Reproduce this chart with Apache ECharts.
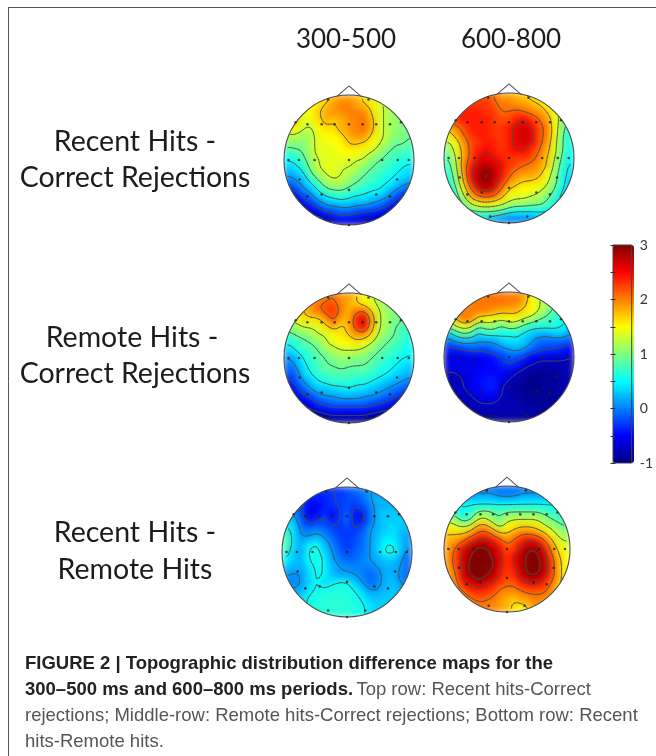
<!DOCTYPE html>
<html><head><meta charset="utf-8">
<style>
html,body{margin:0;padding:0;background:#fff}
#c{width:656px;height:756px}
canvas[data-zr-dom-id="zr_0"]{filter:blur(3.2px)}
canvas[data-zr-dom-id="zr_1"]{filter:blur(0.35px)}
</style>
<script src="https://cdn.jsdelivr.net/npm/echarts@6/dist/echarts.min.js"></script>
</head><body><div id="c"></div>
<script>
const colTitles=['300-500','600-800'];
const rowTitles=[['Recent Hits -','Correct Rejections'],['Remote Hits -','Correct Rejections'],['Recent Hits -','Remote Hits']];
const colorTicks=[3,2,1,0,-1];
const levels=[-0.7,-0.3,0.1,0.5,0.9,1.3,1.7,2.1,2.5,2.9];
const jet=['#00007f','#0000ff','#007fff','#00ffff','#7fff7f','#ffff00','#ff7f00','#ff0000','#7f0000'];
const electrodes=[[-.64,-.55],[-.42,-.55],[-.22,-.55],[0,-.55],[.21,-.55],[.42,-.55],[.63,-.55],
[-.93,0],[-.77,0],[-.53,0],[0,0],[.51,0],[.75,0],[.92,0],[-.76,.3],[.74,.3],[-.42,.53],[0,.46],[.42,.53],
[-.64,.56],[.63,.56],[-.32,-.93],[.3,-.93],[-.82,-.58],[.8,-.58],[-.29,.9],[.28,.9],[0,1]];

const recentCr300=[
[1.2,1.2,1.2,1.3,1.4,1.6,1.8,1.9,1.9,1.8,1.6,1.4,1.3,1.2,1.1,1.1,1.1],
[1.2,1.2,1.3,1.5,1.6,1.8,1.9,2.0,2.0,1.9,1.8,1.6,1.4,1.2,1.1,1.1,1.1],
[1.3,1.3,1.4,1.5,1.7,1.8,1.9,1.9,2.0,2.0,2.0,1.7,1.4,1.2,1.1,1.0,1.0],
[1.7,1.7,1.4,1.4,1.6,1.8,1.7,1.8,1.9,2.0,2.05,1.8,1.4,1.2,1.1,1.0,1.0],
[1.5,1.5,1.3,1.2,1.5,1.6,1.6,1.8,1.9,2.0,2.05,1.8,1.4,1.2,1.1,1.0,.9],
[1.2,1.2,1.1,1.2,1.4,1.5,1.5,1.6,1.8,1.9,1.9,1.6,1.4,1.2,1.0,1.0,.9],
[1.0,1.0,1.0,1.2,1.4,1.4,1.5,1.5,1.7,1.7,1.6,1.5,1.3,1.1,.9,.9,.8],
[.7,.8,.9,1.2,1.4,1.4,1.4,1.5,1.5,1.5,1.4,1.3,1.1,.9,.8,.8,.7],
[.5,.6,.8,1.1,1.3,1.4,1.4,1.4,1.4,1.3,1.3,1.0,.9,.8,.7,.6,.6],
[.3,.4,.6,1.0,1.3,1.4,1.4,1.3,1.3,1.2,1.0,.9,.8,.7,.6,.5,.4],
[.1,.2,.4,.8,1.1,1.3,1.4,1.3,1.2,1.0,.9,.8,.7,.6,.5,.4,.3],
[-.1,0,.2,.5,.8,1.1,1.2,1.2,1.0,.9,.8,.7,.6,.5,.4,.2,.1],
[-.4,-.3,0,.2,.5,.8,.9,.9,.8,.7,.6,.5,.5,.3,.1,-.1,-.2],
[-.7,-.6,-.3,-.1,.2,.4,.5,.6,.5,.4,.4,.3,.2,.1,-.2,-.4,-.5],
[-.9,-.8,-.6,-.4,-.2,.1,.1,.2,.2,.1,.1,0,-.1,-.3,-.5,-.7,-.8],
[-1,-1,-.8,-.7,-.6,-.4,-.3,-.2,-.2,-.3,-.4,-.4,-.5,-.7,-.8,-.9,-1],
[-1,-1,-1,-1,-.9,-.8,-.7,-.6,-.6,-.7,-.7,-.8,-.9,-1,-1,-1,-1]];

const recentCr600=[
[2.1,2.1,2.1,2.1,2.2,2.2,2.1,1.9,1.9,1.8,1.7,1.6,1.5,1.4,1.3,1.2,1.1],
[2.2,2.2,2.2,2.3,2.3,2.3,2.2,2.0,2.0,1.9,1.9,1.8,1.7,1.5,1.3,1.1,1.0],
[2.3,2.3,2.4,2.4,2.4,2.3,2.3,2.1,2.1,2.2,2.1,2.0,1.9,1.7,1.4,1.1,.9],
[2.2,2.3,2.4,2.4,2.4,2.4,2.3,2.2,2.2,2.4,2.5,2.3,2.1,1.9,1.5,1.1,.8],
[1.8,2.0,2.2,2.4,2.4,2.4,2.3,2.3,2.4,2.6,2.7,2.5,2.2,2.0,1.5,1.0,.7],
[1.5,1.8,2.1,2.3,2.4,2.4,2.3,2.3,2.4,2.6,2.7,2.6,2.2,2.0,1.5,.9,.6],
[1.2,1.5,1.9,2.2,2.3,2.4,2.4,2.3,2.4,2.6,2.7,2.5,2.2,1.9,1.4,.9,.6],
[1.0,1.4,1.8,2.2,2.4,2.5,2.4,2.3,2.4,2.5,2.5,2.3,2.1,1.8,1.4,.9,.5],
[.8,1.3,1.8,2.2,2.5,2.6,2.5,2.4,2.3,2.3,2.3,2.2,2.0,1.7,1.3,.8,.5],
[.7,1.2,1.9,2.4,2.7,2.8,2.7,2.5,2.3,2.2,2.1,2.0,1.9,1.7,1.2,.7,.4],
[.6,1.1,1.8,2.5,2.8,2.95,2.8,2.5,2.2,2.0,1.9,1.9,1.8,1.5,1.1,.6,.4],
[.5,1.0,1.7,2.4,2.8,2.95,2.8,2.4,2.0,1.8,1.7,1.7,1.6,1.4,1.0,.6,.3],
[.4,.8,1.5,2.1,2.6,2.8,2.6,2.1,1.7,1.6,1.5,1.5,1.4,1.2,.9,.5,.3],
[.3,.7,1.2,1.8,2.1,2.2,2.1,1.8,1.5,1.4,1.4,1.3,1.2,1.0,.7,.4,.2],
[.2,.5,.9,1.3,1.5,1.6,1.5,1.4,1.2,1.1,1.1,1.0,1.0,.8,.6,.3,.2],
[.1,.3,.6,.8,.9,.9,.9,.8,.6,.5,.5,.5,.5,.5,.4,.2,.1],
[0,.1,.3,.4,.4,.4,.2,.1,0,0,0,.1,.2,.2,.2,.1,0]];

const remoteCr300=[
[1.5,1.5,1.5,1.6,1.8,2.0,2.1,1.9,1.9,1.7,1.5,1.3,1.2,1.1,1.0,1.0,1.0],
[1.5,1.5,1.6,1.9,2.1,2.2,2.2,2.0,1.8,1.7,1.6,1.4,1.2,1.1,1.0,.9,.9],
[1.5,1.5,1.7,1.9,2.0,2.2,2.3,2.0,1.8,2.1,2.2,1.7,1.3,1.1,1.0,.9,.8],
[1.4,1.4,1.6,1.6,1.6,1.9,2.2,1.8,1.8,2.4,2.7,1.9,1.3,1.1,1.0,.9,.8],
[1.0,1.1,1.3,1.3,1.4,1.6,1.8,1.6,1.8,2.3,2.5,1.8,1.3,1.1,.9,.8,.7],
[.8,.9,1.0,1.1,1.3,1.3,1.5,1.6,1.7,1.9,1.9,1.6,1.2,1.0,.9,.7,.7],
[.5,.7,.8,.9,1.0,1.3,1.4,1.5,1.5,1.6,1.5,1.3,1.0,.9,.8,.7,.6],
[.3,.5,.7,.8,.9,1.1,1.2,1.3,1.3,1.3,1.2,1.0,.9,.8,.7,.6,.5],
[.1,.2,.5,.7,.8,.9,1.0,1.1,1.1,1.0,1.0,.9,.8,.7,.6,.5,.5],
[-.1,.1,.4,.6,.8,.9,.9,1.0,.9,.9,.9,.8,.7,.6,.5,.4,.3],
[-.2,-.1,.3,.5,.7,.8,.8,.8,.8,.8,.8,.7,.6,.5,.4,.3,.2],
[-.4,-.2,.1,.3,.5,.6,.7,.7,.7,.6,.6,.5,.4,.3,.2,.1,0],
[-.6,-.4,-.1,.1,.3,.3,.4,.4,.5,.4,.4,.3,.2,.1,0,-.1,-.2],
[-.8,-.6,-.4,-.2,0,.1,.1,.2,.2,.2,.1,.1,0,-.1,-.2,-.4,-.5],
[-1,-.9,-.7,-.5,-.3,-.2,-.1,-.1,-.1,-.1,-.1,-.2,-.3,-.4,-.6,-.7,-.8],
[-1,-1,-.9,-.8,-.7,-.6,-.5,-.5,-.5,-.5,-.5,-.6,-.7,-.8,-.9,-1,-1],
[-1,-1,-1,-1,-1,-.9,-.9,-.9,-.9,-.9,-.9,-1,-1,-1,-1,-1,-1]];

const remoteCr600=[
[1.8,1.8,1.8,1.9,2.0,2.05,2.05,2.05,2.0,2.0,1.9,1.5,1.3,1.1,1.0,.9,.8],
[1.8,1.8,1.9,2.0,2.05,2.05,2.05,2.05,2.0,2.0,1.8,1.5,1.3,1.2,.9,.8,.7],
[1.9,1.9,2.0,2.0,2.0,2.0,1.9,1.8,1.8,1.8,1.6,1.5,1.3,1.0,.8,.6,.5],
[1.3,1.7,2.05,2.0,1.6,1.5,1.5,1.4,1.5,1.5,1.3,1.2,.9,.8,.7,.6,.5],
[1.0,1.3,1.5,1.4,.9,1.1,1.1,.8,1.1,1.0,.8,.6,.6,.6,.6,.5,.3],
[.3,.6,.9,.8,.4,.6,.6,.6,.5,.6,.4,.3,.2,.2,.3,.3,.1],
[-.1,.1,.2,.2,.1,.1,.1,.3,.4,.4,.3,.1,-.1,-.1,-.1,-.1,-.2],
[-.4,-.4,-.3,-.2,-.2,-.2,-.1,0,.1,.2,.1,-.1,-.2,-.3,-.3,-.4,-.5],
[-.6,-.6,-.6,-.6,-.6,-.5,-.4,-.3,-.1,-.2,-.3,-.5,-.6,-.6,-.6,-.6,-.7],
[-.6,-.6,-.6,-.6,-.6,-.5,-.5,-.4,-.3,-.4,-.6,-.7,-.8,-.8,-.8,-.8,-.8],
[-.7,-.7,-.6,-.6,-.5,-.5,-.5,-.5,-.6,-.7,-.8,-.9,-.9,-.9,-.9,-.8,-.8],
[-.8,-.8,-.7,-.6,-.5,-.4,-.4,-.6,-.7,-.8,-.9,-.95,-.95,-.9,-.9,-.8,-.8],
[-.8,-.8,-.7,-.6,-.5,-.4,-.4,-.7,-.8,-.9,-.95,-.95,-.95,-.9,-.9,-.8,-.8],
[-.8,-.8,-.8,-.7,-.6,-.5,-.5,-.7,-.8,-.9,-.9,-.95,-.95,-.9,-.9,-.8,-.8],
[-.9,-.9,-.8,-.8,-.7,-.7,-.7,-.8,-.8,-.8,-.9,-.9,-.9,-.9,-.9,-.9,-.9],
[-.9,-.9,-.9,-.9,-.8,-.8,-.8,-.8,-.8,-.8,-.8,-.8,-.9,-.9,-.9,-.9,-.9],
[-1,-1,-1,-.9,-.9,-.9,-.9,-.9,-.9,-.9,-.9,-.9,-.9,-.9,-1,-1,-1]];

const recentRemote300=[
[-.1,-.1,-.2,-.3,-.3,-.3,-.3,-.3,-.2,-.1,0,.1,.1,.1,.1,.1,.1],
[-.1,-.1,-.2,-.4,-.4,-.4,-.3,-.3,-.2,-.2,-.1,.1,.2,.2,.2,.2,.2],
[0,0,-.2,-.5,-.5,-.4,-.3,-.3,-.2,-.3,-.2,0,.2,.2,.2,.2,.2],
[.1,.1,-.2,-.65,-.55,-.3,-.5,-.35,-.1,-.45,-.45,-.05,.2,.3,.3,.3,.3],
[.3,.3,-.1,-.4,-.3,-.2,-.4,-.3,-.1,-.4,-.4,-.05,.2,.3,.3,.3,.3],
[.6,.4,0,-.1,0,-.1,-.2,-.3,-.25,-.3,-.2,.1,.2,.3,.4,.3,.2],
[.8,.4,.1,.1,.2,.1,-.1,-.25,-.3,-.25,-.1,.1,.25,.4,.4,.25,.1],
[.8,.4,.2,.4,.55,.25,.05,-.2,-.3,-.2,-.1,.1,.3,.5,.5,.3,.1],
[.7,.3,.2,.55,.6,.4,.1,-.1,-.25,-.15,-.05,.1,.3,.55,.62,.3,0],
[.5,.3,.2,.5,.6,.5,.15,0,-.1,-.1,0,.1,.2,.3,.3,.15,-.1],
[.3,.2,.2,.4,.55,.5,.25,.1,.05,0,0,0,.1,.2,.2,.1,-.1],
[.1,.05,.1,.35,.55,.5,.25,.15,.15,.1,0,-.1,0,.2,.2,.05,-.1],
[.1,0,.1,.3,.55,.35,.45,.55,.55,.3,.1,-.1,0,.2,.25,.1,0],
[.2,.1,.2,.4,.55,.55,.6,.62,.62,.5,.3,.1,.1,.25,.3,.2,.1],
[.2,.2,.35,.55,.62,.65,.65,.65,.65,.6,.45,.3,.25,.3,.3,.3,.2],
[.3,.3,.4,.55,.62,.65,.65,.65,.65,.62,.55,.4,.3,.3,.3,.3,.3],
[.3,.3,.4,.55,.62,.65,.65,.65,.65,.62,.55,.4,.3,.3,.3,.3,.3]];

const recentRemote600=[
[-.1,-.1,-.1,-.1,0,0,0,-.1,-.1,-.1,0,0,0,0,0,0,0],
[.2,.2,.2,.2,.2,.2,.2,.1,.1,.1,.2,.2,.2,.2,.2,.2,.2],
[.5,.5,.5,.5,.5,.5,.5,.5,.5,.5,.5,.5,.5,.5,.5,.4,.4],
[.8,.7,.5,.6,.9,1.0,.9,.8,.9,.9,.9,.9,.9,.8,.7,.6,.5],
[1.2,1.1,.7,.8,1.3,1.4,1.1,.9,1.2,1.3,1.3,1.3,1.3,1.1,.9,.8,.7],
[1.5,1.4,1.3,1.4,1.8,1.9,1.6,1.2,1.5,1.6,1.7,1.7,1.6,1.4,1.2,1.0,.9],
[1.7,1.7,1.7,1.9,2.2,2.3,2.1,1.8,1.7,1.9,2.1,2.1,2.0,1.8,1.5,1.2,1.1],
[1.8,1.9,2.1,2.4,2.6,2.7,2.5,2.3,2.0,2.2,2.4,2.6,2.5,2.2,1.8,1.4,1.3],
[1.9,2.1,2.5,2.8,3,3,2.8,2.5,2.2,2.3,2.7,2.9,2.9,2.5,2.0,1.6,1.4],
[1.9,2.2,2.6,2.9,3,3,2.9,2.6,2.3,2.5,2.8,3,3,2.7,2.2,1.7,1.5],
[1.9,2.2,2.6,3,3,3,3,2.6,2.3,2.5,2.8,3,3,2.8,2.3,1.8,1.5],
[1.8,2.1,2.6,3,3,3,2.9,2.5,2.3,2.4,2.8,3,3,2.8,2.3,1.8,1.5],
[1.8,2.0,2.5,2.8,3,2.9,2.7,2.4,2.2,2.3,2.6,2.8,2.8,2.5,2.2,1.8,1.5],
[1.7,1.9,2.3,2.5,2.6,2.5,2.4,2.2,2.1,2.1,2.3,2.4,2.4,2.3,2.0,1.7,1.5],
[1.7,1.8,2.0,2.2,2.3,2.3,2.2,2.0,1.9,1.9,2.0,2.1,2.1,2.1,1.9,1.7,1.5],
[1.6,1.7,1.9,2.0,2.1,2.1,2.0,1.9,1.8,1.7,1.8,1.9,2.0,1.9,1.8,1.6,1.5],
[1.6,1.7,1.8,1.9,2.0,2.0,2.0,1.9,1.8,1.6,1.5,1.7,1.9,1.9,1.8,1.6,1.5]];

const heads=[
{v:recentCr300,cx:349,cy:160,r:65},{v:recentCr600,cx:509,cy:158,r:65},
{v:remoteCr300,cx:349,cy:358,r:65},{v:remoteCr600,cx:509,cy:357,r:65},
{v:recentRemote300,cx:347,cy:552,r:65},{v:recentRemote600,cx:507,cy:549,r:63}];

const U=8.5, H=8, F=3;
const toU=c=>(c-H)/U;
function cellsOf(g){const o=[];g.forEach((row,j)=>row.forEach((v,i)=>{
  if(Math.hypot(toU(i),toU(j))<1.16)o.push([toU(i),toU(j),v]);}));return o;}
// the contour tracer follows the same softened field that the blurred cell layer shows
function softened(g){const n=16*F+1,f=[];
  for(let y=0;y<n;y++){f.push([]);for(let x=0;x<n;x++){
    const i=Math.min(15,Math.floor(x/F)),j=Math.min(15,Math.floor(y/F)),s=x/F-i,t=y/F-j;
    f[y].push(g[j][i]*(1-s)*(1-t)+g[j][i+1]*s*(1-t)+g[j+1][i]*(1-s)*t+g[j+1][i+1]*s*t);}}
  const box=a=>a.map((r,y)=>r.map((_,x)=>{let m=0,c=0;
    for(let dy=-1;dy<=1;dy++)for(let dx=-1;dx<=1;dx++){const q=a[y+dy]&&a[y+dy][x+dx];if(q!==undefined){m+=q;c++;}}
    return m/c;}));
  return box(box(f));}
function contours(g){const segs=[],f=softened(g),n=f.length-1;
  const pos=c=>toU(c/F);
  levels.forEach(L=>{for(let j=0;j<n;j++)for(let i=0;i<n;i++){
    const a=f[j][i],b=f[j][i+1],c=f[j+1][i+1],d=f[j+1][i],p=[];
    const cross=(u,w)=>(u<L)!==(w<L);
    if(cross(a,b))p.push([i+(L-a)/(b-a),j]);
    if(cross(b,c))p.push([i+1,j+(L-b)/(c-b)]);
    if(cross(d,c))p.push([i+(L-d)/(c-d),j+1]);
    if(cross(a,d))p.push([i,j+(L-a)/(d-a)]);
    for(let k=0;k+1<p.length;k+=2){
      const q=[pos(p[k][0]),pos(p[k][1]),pos(p[k+1][0]),pos(p[k+1][1])];
      if(Math.hypot((q[0]+q[2])/2,(q[1]+q[3])/2)<.99)segs.push(q);
    }
  }});return segs;}

const grids=[],xAxes=[],yAxes=[],series=[],cellIdx=[];
heads.forEach((h,k)=>{
  grids.push({left:h.cx-h.r,top:h.cy-h.r,width:2*h.r,height:2*h.r,show:false});
  xAxes.push({gridIndex:k,type:'value',min:-1,max:1,show:false});
  yAxes.push({gridIndex:k,type:'value',min:-1,max:1,inverse:true,show:false});
  cellIdx.push(series.length);
  series.push({type:'custom',name:'cells',xAxisIndex:k,yAxisIndex:k,zlevel:0,silent:true,animation:false,clip:false,
    data:cellsOf(h.v),encode:{x:0,y:1},dimensions:['x','y','value'],
    renderItem(p,api){const d=.5/U+.004;
      const a=api.coord([api.value(0)-d,api.value(1)-d]),b=api.coord([api.value(0)+d,api.value(1)+d]);
      return {type:'rect',shape:{x:a[0],y:a[1],width:b[0]-a[0],height:b[1]-a[1]},style:{fill:api.visual('color')}};}});
  series.push({type:'custom',name:'mask',xAxisIndex:k,yAxisIndex:k,zlevel:1,z:1,silent:true,animation:false,clip:false,
    data:[[0,0]],encode:{x:0,y:1},
    renderItem(p,api){const c=api.coord([0,0]),e=api.coord([1,0]),r=e[0]-c[0];
      return {type:'circle',shape:{cx:c[0],cy:c[1],r:r+14},style:{fill:'none',stroke:'#fff',lineWidth:28}};}});
  series.push({type:'custom',name:'contours',xAxisIndex:k,yAxisIndex:k,zlevel:1,z:2,silent:true,animation:false,clip:false,
    data:contours(h.v),encode:{x:[0,2],y:[1,3]},
    renderItem(p,api){const a=api.coord([api.value(0),api.value(1)]),b=api.coord([api.value(2),api.value(3)]);
      return {type:'line',shape:{x1:a[0],y1:a[1],x2:b[0],y2:b[1]},style:{stroke:'#47533f',lineWidth:.75,lineCap:'round'}};}});
  series.push({type:'custom',name:'head',xAxisIndex:k,yAxisIndex:k,zlevel:1,z:3,silent:true,animation:false,clip:false,
    data:[[0,0]],encode:{x:0,y:1},
    renderItem(p,api){const c=api.coord([0,0]),e=api.coord([1,0]),r=e[0]-c[0];
      const n=(x,y)=>api.coord([x,y]);
      return {type:'group',children:[
        {type:'circle',shape:{cx:c[0],cy:c[1],r},style:{fill:'none',stroke:'#4a4a4a',lineWidth:1.1}},
        {type:'polyline',shape:{points:[n(-.19,-.975),n(0,-1.14),n(.19,-.975)]},style:{fill:'none',stroke:'#555',lineWidth:1.1}}]};}});
  series.push({type:'scatter',name:'electrodes',xAxisIndex:k,yAxisIndex:k,zlevel:1,z:4,silent:true,animation:false,clip:false,
    data:electrodes,symbolSize:2.6,itemStyle:{color:'#222'}});
});
const barIdx=grids.length;
grids.push({left:613,top:245,width:21,height:218,show:true,borderColor:'#444',borderWidth:1,backgroundColor:'transparent',zlevel:1,z:5});
xAxes.push({gridIndex:barIdx,type:'value',show:false,min:0,max:1});
const tickStyle={show:true,inside:true,length:2.5,lineStyle:{color:'#333',width:1}};
yAxes.push({gridIndex:barIdx,type:'value',position:'right',min:-1,max:3,interval:.5,zlevel:1,z:6,
  axisLine:{show:false},splitLine:{show:false},axisTick:tickStyle,
  axisLabel:{margin:8,fontFamily:'Lato',fontSize:14,color:'#333',formatter:v=>colorTicks.includes(v)?String(v):''}});
yAxes.push({gridIndex:barIdx,type:'value',position:'left',min:-1,max:3,interval:.5,zlevel:1,z:6,
  axisLine:{show:false},splitLine:{show:false},axisTick:tickStyle,axisLabel:{show:false}});
series.push({type:'custom',name:'barAnchor',xAxisIndex:barIdx,yAxisIndex:barIdx,zlevel:1,silent:true,data:[],renderItem(){return null;}});

const LBL={fontFamily:'Lato',fontSize:28.5,fill:'#1c1c1c',textAlign:'center',textVerticalAlign:'middle'};
const txt=(x,y,s,st)=>({type:'text',zlevel:1,x,y,silent:true,style:Object.assign({},LBL,st||{},{text:s})});
const graphics=[];
graphics.push({type:'line',zlevel:1,silent:true,shape:{x1:8,y1:7.5,x2:656,y2:7.5},style:{stroke:'#555',lineWidth:1}});
graphics.push({type:'line',zlevel:1,silent:true,shape:{x1:8.5,y1:7,x2:8.5,y2:756},style:{stroke:'#555',lineWidth:1}});
graphics.push(txt(346,40,colTitles[0],{fontSize:26}),txt(511,40,colTitles[1],{fontSize:26}));
[[142,178,135],[338,374,132],[533,570,135]].forEach((p,i)=>{
  graphics.push(txt(p[2],p[0],rowTitles[i][0]),txt(135,p[1],rowTitles[i][1]));});
const CF=18.5;
const B={fontFamily:'Liberation Sans',fontSize:CF,fontWeight:'bold',fill:'#222',textAlign:'left',textVerticalAlign:'middle'};
const R=Object.assign({},B,{fontWeight:'normal',fill:'#555'});
graphics.push(txt(25,664,'FIGURE 2 | Topographic distribution difference maps for the',B));
graphics.push({type:'text',zlevel:1,x:25,y:690,silent:true,style:{text:'{b|300–500 ms and 600–800 ms periods.} {r|Top row: Recent hits-Correct}',textAlign:'left',textVerticalAlign:'middle',
  rich:{b:{fontFamily:'Liberation Sans',fontSize:CF,fontWeight:'bold',fill:'#222'},r:{fontFamily:'Liberation Sans',fontSize:CF,fill:'#555'}}}});
graphics.push(txt(25,716,'rejections; Middle-row: Remote hits-Correct rejections; Bottom row: Recent',R));
graphics.push(txt(25,742,'hits-Remote hits.',R));

const chart=echarts.init(document.getElementById('c'),null,{renderer:'canvas'});
chart.setOption({animation:false,backgroundColor:'transparent',grid:grids,xAxis:xAxes,yAxis:yAxes,series,
  visualMap:{type:'continuous',min:-1,max:3,seriesIndex:cellIdx,dimension:2,calculable:false,hoverLink:false,
    left:613,top:245,itemWidth:21,itemHeight:218,padding:0,text:null,showLabel:false,zlevel:1,z:4,inRange:{color:jet}},
  graphic:{elements:graphics}});
</script></body></html>
